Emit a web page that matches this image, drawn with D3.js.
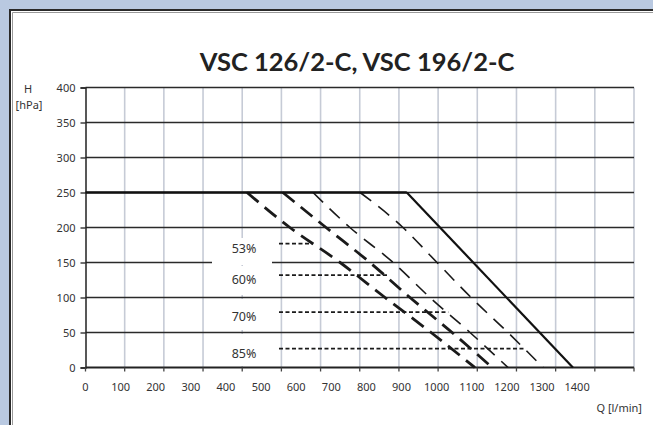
<!DOCTYPE html>
<html lang="en">
<head>
<meta charset="utf-8">
<title>VSC 126/2-C, VSC 196/2-C</title>
<script src="https://d3js.org/d3.v7.min.js"></script>
<style type="text/css">
  body { margin: 0; background: #b9c9e1; overflow: hidden; }
  svg { display: block; }
  text { font-family: "Noto Sans", "Open Sans", sans-serif; fill: #333; }
  .title { font-family: Lato, "Open Sans", sans-serif; font-weight: bold; fill: #222; }
</style>
</head>
<body>
<svg width="653" height="425"></svg>
<script>
// axis ticks
const hTicks = [0, 50, 100, 150, 200, 250, 300, 350, 400];
const qTicks = [0, 100, 200, 300, 400, 500, 600, 700, 800, 900, 1000, 1100, 1200, 1300, 1400];

// pump curves, read at these heads
const curveH = [250, 200, 150, 100, 50, 0];
const q53 = [460, 582, 725, 853, 984, 1109];
const q60 = [562, 685, 810, 924, 1044, 1158];
const q70 = [648, 753, 876, 981, 1095, 1203];
const q85 = [782, 904, 1001, 1098, 1203, 1303];
const q100 = [915, 1388];
const h100 = [250, 0];

// bypass limit line at 250 hPa
const limitQ = [0, 915];
const limitH = [250, 250];

// percentage markers
const pctLabels = ["53%", "60%", "70%", "85%"];
const pctH = [177, 132, 79, 27];
const pctQStart = 551;
const pctQEnd = [645, 862, 1033, 1249];

var svg = d3.select("svg");

var xScale = d3.scaleLinear().domain([0, 1562]).range([85.5, 634]);
var yScale = d3.scaleLinear().domain([0, 400]).range([367.5, 87.5]);
// vertical grid is 14 even steps across the plot
var gridQ = d3.range(15).map(function(i) { return i * 1562 / 14; });

// white panel with dark frame
svg.append("rect")
  .attr("x", 10).attr("y", 10).attr("width", 700).attr("height", 500)
  .attr("fill", "white").attr("stroke", "#2a2a2a").attr("stroke-width", 2);
svg.append("path")
  .attr("d", "M12.5,700 V12.5 H700")
  .attr("fill", "none").attr("stroke", "#9a9a9a").attr("stroke-width", 1);

// title
svg.append("text")
  .attr("class", "title")
  .attr("x", 357).attr("y", 71)
  .attr("text-anchor", "middle")
  .style("font-size", "25.5px")
  .text("VSC 126/2-C, VSC 196/2-C");

// vertical grid
svg.append("g").selectAll("line")
  .data(gridQ.slice(1))
  .enter().append("line")
  .attr("x1", function(d) { return xScale(d); })
  .attr("x2", function(d) { return xScale(d); })
  .attr("y1", yScale(400)).attr("y2", yScale(0))
  .attr("stroke", "#c6cbd6").attr("stroke-width", 1.6);

// horizontal grid
svg.append("g").selectAll("line")
  .data(hTicks.slice(1))
  .enter().append("line")
  .attr("x1", xScale(0)).attr("x2", xScale(1562))
  .attr("y1", function(d) { return yScale(d); })
  .attr("y2", function(d) { return yScale(d); })
  .attr("stroke", "#2a2a2a").attr("stroke-width", 1.3);

// label boxes hide the grid behind the percentages
var boxes = [[238, 265], [266, 295], [299, 330], [334, 366]];
svg.append("g").selectAll("rect")
  .data(boxes)
  .enter().append("rect")
  .attr("x", 212).attr("width", 60)
  .attr("y", function(d) { return d[0]; })
  .attr("height", function(d) { return d[1] - d[0]; })
  .attr("fill", "white");

// y axis
var yAxis = d3.axisLeft(yScale).tickValues(hTicks).tickSize(5).tickPadding(5);
var gy = svg.append("g").attr("transform", "translate(" + xScale(0) + ",0)").call(yAxis);
gy.select(".domain").attr("stroke", "#222").attr("stroke-width", 1.5);
gy.selectAll(".tick line").attr("stroke", "#222").attr("stroke-width", 1.3);
gy.selectAll("text").style("font-size", "11px").attr("fill", "#333");

// x axis: tick marks on the grid, labels on the Q scale
var gx = svg.append("g").attr("transform", "translate(0," + yScale(0) + ")");
gx.append("line")
  .attr("x1", xScale(0)).attr("x2", xScale(1562))
  .attr("stroke", "#222").attr("stroke-width", 2);
gx.selectAll(".gtick")
  .data(gridQ)
  .enter().append("line")
  .attr("class", "gtick")
  .attr("x1", function(d) { return xScale(d); })
  .attr("x2", function(d) { return xScale(d); })
  .attr("y1", 0).attr("y2", 4)
  .attr("stroke", "#444").attr("stroke-width", 1.3);
gx.selectAll(".qlab")
  .data(qTicks)
  .enter().append("text")
  .attr("class", "qlab")
  .attr("x", function(d) { return xScale(d); })
  .attr("y", 23.5)
  .attr("text-anchor", "middle")
  .style("font-size", "11px")
  .text(function(d) { return d; });

// axis titles
svg.append("text").attr("x", 28).attr("y", 93).attr("text-anchor", "middle")
  .style("font-size", "11px").text("H");
svg.append("text").attr("x", 29).attr("y", 109).attr("text-anchor", "middle")
  .style("font-size", "11px").text("[hPa]");
svg.append("text").attr("x", 642).attr("y", 412).attr("text-anchor", "end")
  .style("font-size", "11px").text("Q [l/min]");

// curves
var line = d3.line()
  .x(function(d) { return xScale(d[0]); })
  .y(function(d) { return yScale(d[1]); })
  .curve(d3.curveMonotoneX);

function pairs(qs, hs) {
  return qs.map(function(q, i) { return [q, hs[i]]; });
}

var curves = [
  { pts: pairs(q53, curveH), w: 2.8, dash: "15,8" },
  { pts: pairs(q60, curveH), w: 2.8, dash: "15,8" },
  { pts: pairs(q70, curveH), w: 1.6, dash: "14,9" },
  { pts: pairs(q85, curveH), w: 1.6, dash: "14,9" }
];

svg.append("g").selectAll("path")
  .data(curves)
  .enter().append("path")
  .attr("d", function(d) { return line(d.pts); })
  .attr("fill", "none")
  .attr("stroke", "#1a1a1a")
  .attr("stroke-width", function(d) { return d.w; })
  .attr("stroke-dasharray", function(d) { return d.dash; });

// percentage markers
svg.append("g").selectAll("line")
  .data(pctH)
  .enter().append("line")
  .attr("x1", xScale(pctQStart))
  .attr("x2", function(d, i) { return xScale(pctQEnd[i]); })
  .attr("y1", function(d) { return yScale(d); })
  .attr("y2", function(d) { return yScale(d); })
  .attr("stroke", "#1a1a1a").attr("stroke-width", 1.8)
  .attr("stroke-dasharray", "4,2.5");

svg.append("g").selectAll("text")
  .data(pctLabels)
  .enter().append("text")
  .attr("x", 244)
  .attr("y", function(d, i) { return yScale(pctH[i]) + 9; })
  .attr("text-anchor", "middle")
  .style("font-size", "12.5px")
  .text(function(d) { return d; });

// 250 hPa limit and full speed curve
svg.append("path")
  .attr("d", line(pairs(limitQ, limitH)))
  .attr("fill", "none").attr("stroke", "#111").attr("stroke-width", 2.6);
svg.append("path")
  .attr("d", line(pairs(q100, h100)))
  .attr("fill", "none").attr("stroke", "#111").attr("stroke-width", 2.2);
</script>
</body>
</html>
